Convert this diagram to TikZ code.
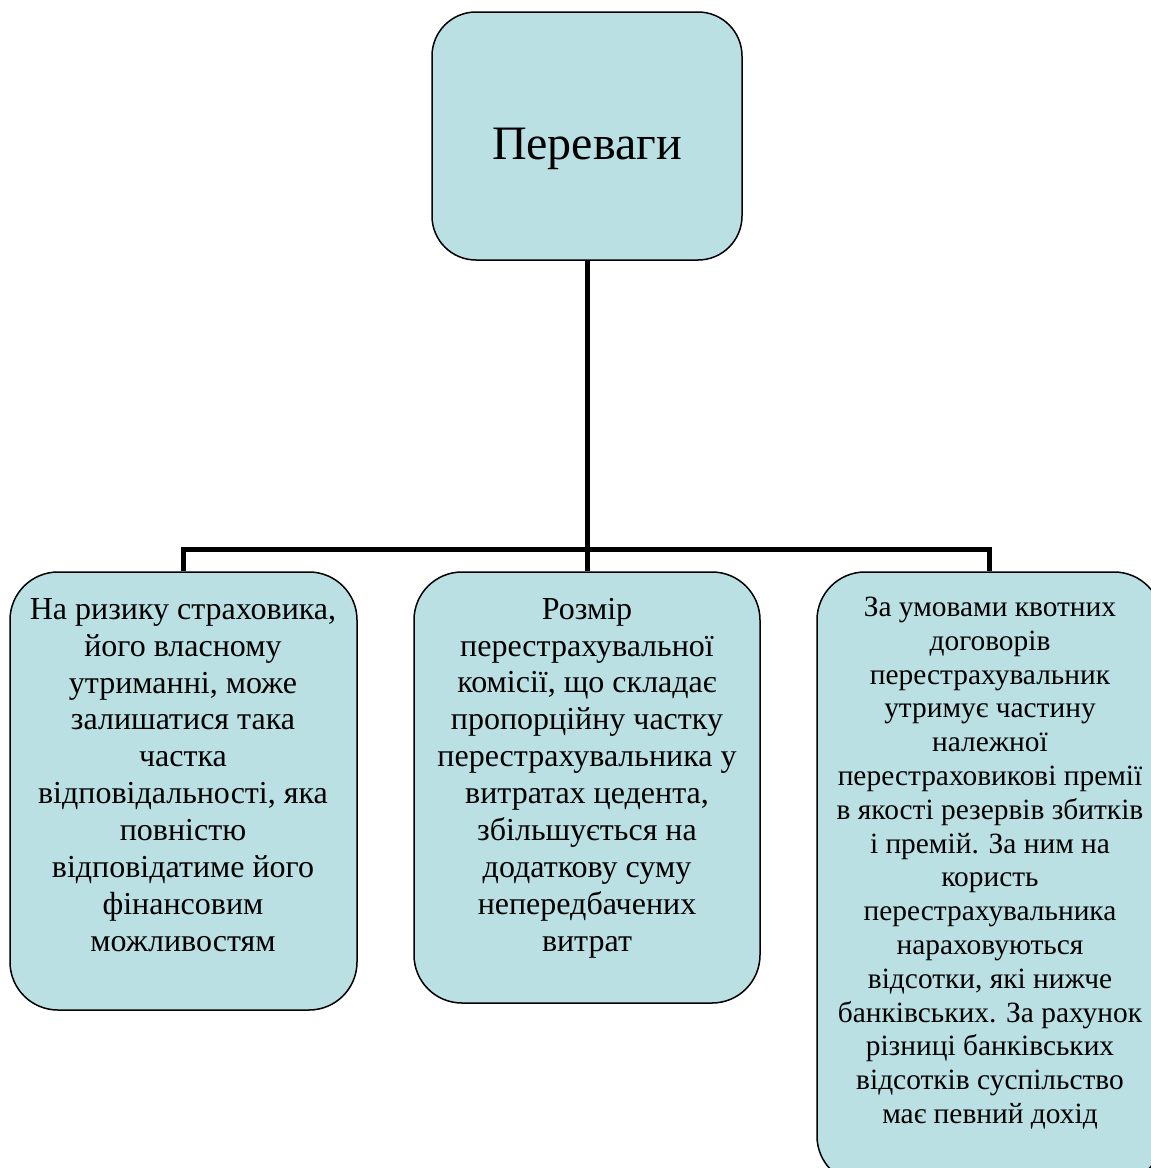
\documentclass[tikz,border=0pt]{standalone}
\usepackage{fontspec}
\setmainfont{Liberation Serif}
\usetikzlibrary{positioning}
\definecolor{boxcyan}{HTML}{BAE0E3}

\begin{document}
\begin{tikzpicture}[
    x=1pt, y=-1pt,
    box/.style={draw=black, line width=1.5pt, rounded corners=48pt, fill=boxcyan,
        inner sep=0pt},
    txt/.style={align=center, inner sep=0pt, font=\fontsize{32}{36.9}\selectfont},
    link/.style={line width=5pt, draw=black}
]
\clip (0,0) rectangle (1151,1168);
% boxes
\node[box, minimum width=310pt, minimum height=248pt, rounded corners=44pt] (top) at (587,136) {};
\node[box, minimum width=347pt, minimum height=438pt] (left) at (183.5,791) {};
\node[box, minimum width=346pt, minimum height=431pt] (mid) at (587,787.5) {};
\node[box, minimum width=345pt, minimum height=612pt] (right) at (989.5,878) {};
% texts
\node[font=\fontsize{48}{54}\selectfont, inner sep=0pt] (toptext) at (587,149) {Переваги};
\node[txt] (lefttext) at (183,775) {На ризику страховика,\\його власному\\утриманні, може\\залишатися така\\частка\\відповідальності, яка\\повністю\\відповідатиме його\\фінансовим\\можливостям};
\node[txt] (midtext) at (587,778) {Розмір\\перестрахувальної\\комісії, що складає\\пропорційну частку\\перестрахувальника у\\витратах цедента,\\збільшується на\\додаткову суму\\непередбачених\\витрат};
\node[txt, font=\fontsize{29.4}{33.8}\selectfont] (righttext) at (990,863) {За умовами квотних\\договорів\\перестрахувальник\\утримує частину\\належної\\перестраховикові премії\\в якості резервів збитків\\і премій. За ним на\\користь\\перестрахувальника\\нараховуються\\відсотки, які нижче\\банківських. За рахунок\\різниці банківських\\відсотків суспільство\\має певний дохід};
% connectors
\coordinate (bus) at (587,549);
\draw[link] (top.south) -- (bus);
\draw[link] (left.north) |- (bus) -| (right.north);
\draw[link] (bus) -- (mid.north);
\end{tikzpicture}
\end{document}
